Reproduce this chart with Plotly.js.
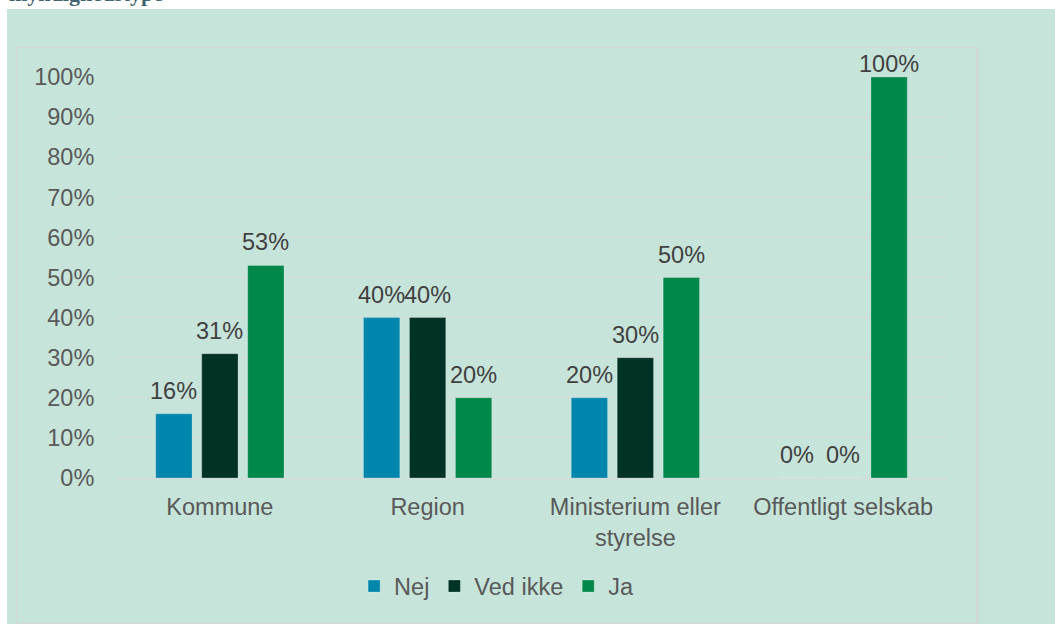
<!DOCTYPE html>
<html>
<head>
<meta charset="utf-8">
<script src="https://cdn.plot.ly/plotly-3.0.1.min.js"></script>
<style>
  html, body { margin: 0; padding: 0; background: #ffffff; }
  #wrap { position: relative; width: 1055px; height: 624px; overflow: hidden; }
  #bg { position: absolute; left: 7px; top: 9px; width: 1048px; height: 615px; background: #C7E4DA; }
  #frame { position: absolute; left: 16px; top: 47px; width: 959px; height: 575px;
           border-left: 1px solid #D4D7D6; border-top: 1px solid #D4D7D6;
           border-right: 2px solid #D4D7D6; border-bottom: 2px solid #D4D7D6; }
  #chart { position: absolute; left: 0; top: 0; width: 1055px; height: 624px; }
</style>
</head>
<body>
<div id="wrap">
  <div id="bg"></div>
  <div id="frame"></div>
  <div id="chart"></div>
</div>
<script>
// ---- data ----
const categories = ['Kommune', 'Region', 'Ministerium eller<br>styrelse', 'Offentligt selskab'];
const seriesNames = ['Nej', 'Ved ikke', 'Ja'];
const nejValues = [0.16, 0.40, 0.20, 0.00];
const vedIkkeValues = [0.31, 0.40, 0.30, 0.00];
const jaValues = [0.53, 0.20, 0.50, 1.00];
const tickValues = [0, 0.1, 0.2, 0.3, 0.4, 0.5, 0.6, 0.7, 0.8, 0.9, 1.0];
const chartTitle = 'myndighedstype';

// ---- styles ----
const seriesColors = ['#0085AD', '#003326', '#00874A'];
const allSeries = [nejValues, vedIkkeValues, jaValues];
const FONT = 'Liberation Sans, Arial, sans-serif';
const FS = 23.5;

const traces = allSeries.map((vals, i) => ({
  type: 'bar',
  name: seriesNames[i],
  x: categories,
  y: vals,
  marker: { color: seriesColors[i], line: { color: 'rgba(255,255,255,0.25)', width: 1 } },
  hoverinfo: 'none'
}));

const bargap = 0.336;
const plotWidth = 1055 - 116 - 108;
const pitch = (plotWidth / categories.length) * (1 - bargap) / allSeries.length;

// labels sit above the bars, but are kept inside the chart frame (as in the source)
const annotations = [];
allSeries.forEach((vals, i) => {
  vals.forEach((v, j) => {
    annotations.push({
      x: categories[j], y: v, xref: 'x', yref: 'y',
      text: Math.round(v * 100) + '%',
      showarrow: false, yanchor: 'bottom', xanchor: 'center',
      xshift: (i - (allSeries.length - 1) / 2) * pitch,
      yshift: v > 0.95 ? -2 : 8,
      font: { family: FONT, size: FS, color: '#404040' }
    });
  });
});

annotations.push({
  text: '<b>' + chartTitle + '</b>',
  xref: 'paper', yref: 'paper',
  x: (7 - 116) / plotWidth, y: (478.5 - 9) / 401,
  xanchor: 'left', yanchor: 'bottom', showarrow: false,
  font: { family: 'Liberation Serif, Times New Roman, serif', size: 22, color: '#3E6470' }
});

const layout = {
  width: 1055, height: 624,
  margin: { l: 116, r: 108, t: 77, b: 146, pad: 0 },
  paper_bgcolor: 'rgba(0,0,0,0)',
  plot_bgcolor: 'rgba(0,0,0,0)',
  barmode: 'group',
  bargap: bargap,
  bargroupgap: 0.21,
  font: { family: FONT, size: FS, color: '#595959' },
  showlegend: true,
  legend: {
    orientation: 'h', x: 0.458, xanchor: 'center', y: -0.27, yanchor: 'middle',
    font: { family: FONT, size: FS, color: '#595959' },
    bgcolor: 'rgba(0,0,0,0)', itemclick: false, itemdoubleclick: false
  },
  xaxis: {
    type: 'category',
    showgrid: false, showline: false, zeroline: false,
    ticks: 'outside', ticklen: 8, tickcolor: 'rgba(0,0,0,0)',
    tickfont: { family: FONT, size: FS, color: '#595959' },
    fixedrange: true
  },
  yaxis: {
    range: [0, 1], tickvals: tickValues, tickformat: '.0%',
    showgrid: true, gridcolor: '#D9D9D9', gridwidth: 1,
    zeroline: true, zerolinecolor: '#D9D9D9', zerolinewidth: 1,
    showline: false,
    ticks: 'outside', ticklen: 16, tickcolor: 'rgba(0,0,0,0)',
    tickfont: { family: FONT, size: FS, color: '#595959' },
    fixedrange: true
  },
  annotations: annotations
};

Plotly.newPlot('chart', traces, layout, { displayModeBar: false, staticPlot: true });
</script>
</body>
</html>
